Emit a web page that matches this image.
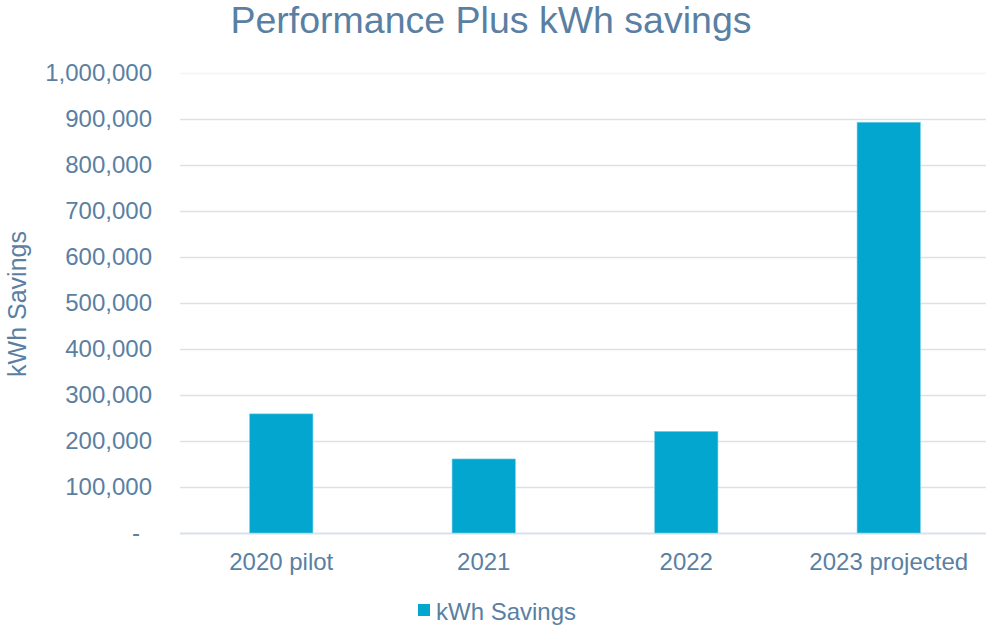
<!DOCTYPE html>
<html>
<head>
<meta charset="utf-8">
<script src="https://cdn.jsdelivr.net/npm/d3@7"></script>
<style>
  body { margin: 0; background: #fff; }
  text { font-family: "Liberation Sans", Arial, sans-serif; fill: #5a7fa3; }
</style>
</head>
<body>
<div id="chart"></div>
<script>
// chart data
const categories = ["2020 pilot", "2021", "2022", "2023 projected"];
const savings = [259000, 161000, 221000, 893000];
const yTicks = [0, 100000, 200000, 300000, 400000, 500000, 600000, 700000, 800000, 900000, 1000000];
const seriesName = "kWh Savings";

const width = 986;
const height = 627;
const margin = { top: 73, right: -4, bottom: 94, left: 180 };

const svg = d3
  .select("#chart")
  .append("svg")
  .attr("width", width)
  .attr("height", height);

const x = d3
  .scaleBand()
  .domain(categories)
  .range([margin.left, width - margin.right])
  .paddingInner(0.687)
  .paddingOuter(0.3435);

const y = d3
  .scaleLinear()
  .domain([0, 1000000])
  .range([height - margin.bottom, margin.top]);

const fmt = d3.format(",");

// gridlines
svg
  .append("g")
  .selectAll("line")
  .data(yTicks)
  .join("line")
  .attr("x1", margin.left)
  .attr("x2", width)
  .attr("y1", d => Math.round(y(d)) + 0.5)
  .attr("y2", d => Math.round(y(d)) + 0.5)
  .attr("stroke", d => (d === 1000000 ? "#f2f4f7" : "#d9e2eb"))
  .attr("stroke-width", d => (d === 0 ? 2 : 1.5));

// y tick labels
svg
  .append("g")
  .selectAll("text")
  .data(yTicks)
  .join("text")
  .attr("x", d => (d === 0 ? 140 : 152))
  .attr("y", d => y(d))
  .attr("dy", "0.35em")
  .attr("text-anchor", "end")
  .attr("font-size", 24)
  .text(d => (d === 0 ? "-" : fmt(d)));

// bars
svg
  .append("g")
  .selectAll("rect")
  .data(savings)
  .join("rect")
  .attr("x", (d, i) => x(categories[i]))
  .attr("width", x.bandwidth())
  .attr("y", d => y(d))
  .attr("height", d => y(0) - y(d))
  .attr("fill", "#02a6ce")
  .attr("stroke", "#7fd3ea")
  .attr("stroke-width", 0.6);

// x labels
svg
  .append("g")
  .selectAll("text")
  .data(categories)
  .join("text")
  .attr("x", d => x(d) + x.bandwidth() / 2)
  .attr("y", 570)
  .attr("text-anchor", "middle")
  .attr("font-size", 24)
  .text(d => d);

// title
svg
  .append("text")
  .attr("x", 491)
  .attr("y", 33)
  .attr("text-anchor", "middle")
  .attr("font-size", 37.5)
  .text("Performance Plus kWh savings");

// y axis title
svg
  .append("text")
  .attr("transform", "translate(26, 304) rotate(-90)")
  .attr("text-anchor", "middle")
  .attr("font-size", 25)
  .text("kWh Savings");

// legend
const legend = svg.append("g").attr("transform", "translate(418, 604)");
legend
  .append("rect")
  .attr("width", 12)
  .attr("height", 12)
  .attr("fill", "#02a6ce");
legend
  .append("text")
  .attr("x", 18)
  .attr("y", 16)
  .attr("font-size", 24)
  .text(seriesName);
</script>
</body>
</html>
